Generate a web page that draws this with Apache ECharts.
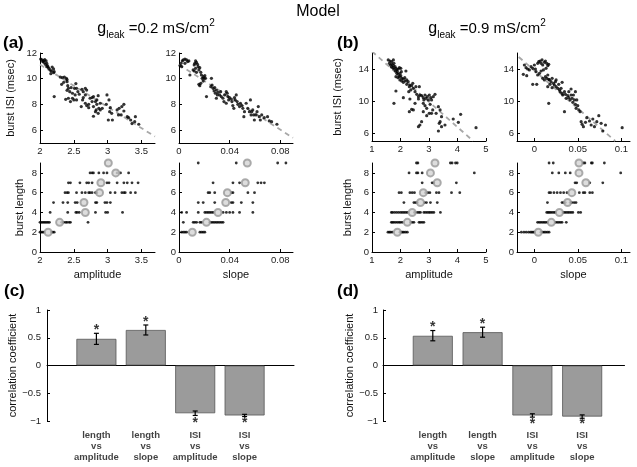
<!DOCTYPE html>
<html>
<head>
<meta charset="utf-8">
<script src="https://cdn.jsdelivr.net/npm/echarts@6/dist/echarts.min.js"></script>
<style>
  html, body { margin: 0; padding: 0; background: #fff; }
  #chart { width: 637px; height: 467px; }
</style>
</head>
<body>
<div id="chart"></div>
<script>
// ---- panel (a): gleak = 0.2 ----
// burst ISI (msec) vs amplitude
var isiAmpA = [
  [2.01,11.53],[2.03,11.46],[2.05,11.40],[2.07,11.48],[2.09,11.38],[2.06,11.27],[2.04,11.33],[2.10,11.20],[2.08,11.12],[2.11,11.02],
  [2.12,10.91],[2.10,10.94],[2.13,10.81],[2.15,10.68],[2.17,10.60],[2.16,10.39],[2.20,10.47],[2.18,10.91],[2.20,10.76],[2.21,10.55],
  [2.21,8.61],[2.30,10.13],[2.33,10.08],[2.36,10.13],[2.39,10.03],[2.40,9.93],[2.40,9.77],[2.35,9.72],[2.32,9.56],[2.41,9.46],
  [2.42,9.25],[2.40,9.10],[2.44,8.99],[2.46,9.31],[2.48,8.87],[2.51,9.25],[2.53,9.62],[2.54,9.25],[2.56,8.99],[2.52,8.74],
  [2.48,8.48],[2.42,8.48],[2.38,8.40],[2.45,8.22],[2.50,8.35],[2.54,8.35],[2.58,8.79],[2.62,9.18],[2.64,8.99],[2.67,9.25],
  [2.69,9.12],[2.67,8.74],[2.64,8.53],[2.63,8.35],[2.61,7.83],[2.67,8.09],[2.69,7.91],[2.72,8.01],[2.74,8.48],[2.77,8.53],
  [2.79,8.61],[2.77,8.22],[2.82,8.22],[2.84,8.35],[2.86,8.68],[2.79,7.83],[2.84,8.01],[2.87,7.70],[2.83,7.57],[2.89,8.09],
  [2.92,7.70],[2.79,7.08],[2.72,7.75],[2.82,7.44],[2.86,7.31],[2.89,7.57],[2.99,8.74],[3.02,8.35],[2.98,8.01],[3.04,7.75],
  [3.03,7.44],[3.06,7.31],[3.01,6.79],[3.07,6.79],[3.14,7.57],[3.17,7.70],[3.21,7.83],[3.24,8.01],[3.16,7.18],[3.20,7.18],
  [3.24,7.49],[3.29,7.05],[3.31,6.97],[3.34,6.79],[3.41,7.05],[3.40,6.66],[3.36,6.51],[3.46,6.46]
];
var fitIsiAmpA = [[2, 11.1], [3.7, 5.5]];

// burst ISI (msec) vs slope
var isiSlopeA = [
  [0.0008,11.02],[0.0016,11.20],[0.0026,11.38],[0.0034,11.46],[0.0047,11.53],[0.0060,11.46],[0.0068,11.33],[0.0078,11.38],[0.0047,11.20],[0.0021,10.94],
  [0.0086,10.29],[0.0112,10.68],[0.0120,11.07],[0.0125,11.20],[0.0131,11.38],[0.0138,11.27],[0.0146,11.12],[0.0151,10.94],[0.0131,10.81],[0.0120,10.60],
  [0.0138,10.50],[0.0157,10.68],[0.0164,10.86],[0.0172,10.50],[0.0177,10.29],[0.0191,10.16],[0.0198,10.03],[0.0204,10.24],[0.0209,10.03],[0.0183,10.03],
  [0.0172,9.64],[0.0157,9.56],[0.0164,9.46],[0.0191,9.82],[0.0217,8.61],[0.0256,10.03],[0.0261,9.51],[0.0251,9.38],[0.0269,9.25],[0.0277,9.05],
  [0.0282,9.31],[0.0287,8.87],[0.0295,9.12],[0.0303,8.74],[0.0295,8.48],[0.0308,8.94],[0.0321,8.74],[0.0329,8.99],[0.0334,8.61],[0.0347,8.48],
  [0.0360,8.74],[0.0373,8.99],[0.0381,8.87],[0.0386,8.61],[0.0355,8.22],[0.0373,8.09],[0.0392,8.35],[0.0399,8.53],[0.0412,8.42],[0.0418,8.22],
  [0.0425,7.91],[0.0438,8.53],[0.0444,8.35],[0.0452,8.74],[0.0433,7.70],[0.0459,8.22],[0.0465,8.01],[0.0478,7.83],[0.0485,8.09],[0.0496,7.91],
  [0.0504,7.70],[0.0517,7.44],[0.0512,7.05],[0.0530,8.09],[0.0543,7.70],[0.0556,7.44],[0.0564,8.35],[0.0569,7.18],[0.0574,7.44],[0.0582,7.57],
  [0.0590,7.18],[0.0595,6.79],[0.0608,7.18],[0.0616,7.44],[0.0626,7.83],[0.0634,7.05],[0.0642,6.79],[0.0653,7.18],[0.0673,6.97],[0.0699,7.05],
  [0.0713,6.72],[0.0731,6.66],[0.0773,6.46]
];
var fitIsiSlopeA = [[0, 11.1], [0.09, 5.4]];

// burst length rows (lengths 2..9): amplitude / slope of each burst
var lenAmpA = [
  [2.0,2.02,2.04,2.06,2.17,2.19,2.21],
  [2.0,2.02,2.04,2.06,2.08,2.1,2.12,2.14,2.32,2.35,2.38,2.4,2.43,2.45,2.71],
  [2.15,2.41,2.53,2.55,2.58,2.82,2.97,3.0,3.22],
  [2.2,2.34,2.41,2.52,2.55,2.82,2.84,2.96,2.99,3.04],
  [2.37,2.4,2.42,2.54,2.62,2.67,2.72,2.74,2.77,2.82,2.84,3.04,3.11,3.21,3.24,3.26,3.34,3.41],
  [2.42,2.45,2.59,2.69,2.72,2.77,2.99,3.02,3.14,3.24,3.29,3.36,3.45],
  [2.74,2.77,2.79,2.87,2.94,2.99,3.14,3.19,3.31],
  []
];
var meanAmpA = [2.12, 2.29, 2.67, 2.65, 2.88, 2.9, 3.12, 3.01];

var lenSlopeA = [
  [0.002,0.0034,0.0047,0.006,0.0165,0.0178,0.0191,0.0204],
  [0.0034,0.0112,0.0125,0.0139,0.0165,0.0178,0.0243,0.0256,0.0269,0.0282,0.0295,0.0308,0.0322,0.0335,0.0348],
  [0.0021,0.006,0.0152,0.0204,0.0217,0.023,0.0243,0.0256,0.0269,0.0348,0.0374,0.04,0.0426,0.0478,0.0583],
  [0.0152,0.0191,0.0282,0.0413,0.0426,0.0492,0.0583],
  [0.023,0.0243,0.0282,0.0413,0.0426,0.0544,0.0596],
  [0.0269,0.0426,0.0478,0.0622,0.0648,0.0674],
  [],
  [0.0152,0.0452,0.0779,0.0844]
];
var meanSlopeA = [0.0105, 0.0217, 0.0308, 0.0369, 0.0382, 0.0523, null, 0.0539];

// ---- panel (b): gleak = 0.9 ----
var isiAmpB = [
  [1.57,15.13],[1.63,15.0],[1.69,14.92],[1.75,15.13],[1.61,14.71],[1.65,14.5],[1.70,14.58],[1.75,14.42],[1.77,14.71],[1.81,14.29],
  [1.73,14.17],[1.68,14.25],[1.77,14.0],[1.84,14.08],[1.87,13.88],[1.82,13.75],[1.89,13.67],[1.92,14.0],[1.96,14.17],[2.01,14.08],
  [1.87,13.46],[1.92,13.33],[1.98,13.46],[2.03,13.67],[2.19,13.75],[1.84,13.04],[1.91,12.92],[1.96,13.04],[2.01,13.17],[2.05,12.83],
  [2.10,12.75],[2.15,12.92],[1.98,12.63],[2.04,12.5],[2.10,12.33],[2.16,12.5],[2.22,12.63],[2.27,12.42],[2.22,12.08],[2.33,12.0],
  [2.31,11.79],[2.39,11.92],[2.43,12.21],[2.45,11.58],[2.36,11.38],[2.29,11.17],[2.51,11.17],[2.54,11.79],[2.66,11.79],[2.57,10.83],
  [2.63,10.54],[2.68,10.75],[2.74,10.67],[2.80,10.42],[2.86,10.75],[2.89,10.33],[2.94,10.54],[3.01,10.75],[3.06,10.42],[3.09,10.13],
  [3.15,10.54],[3.21,10.83],[2.98,10.13],[2.82,10.13],[2.63,10.25],[1.84,11.25],[2.10,10.42],[2.33,10.25],[1.77,9.71],[2.45,8.88],
  [2.39,8.96],[2.31,8.67],[2.51,9.71],[2.80,9.71],[2.86,9.42],[2.92,9.08],[3.04,9.58],[3.13,8.88],[3.01,8.46],[3.09,8.46],
  [2.80,8.67],[2.92,8.17],[2.74,7.42],[2.68,7.0],[2.63,6.79],[3.33,9.29],[3.39,8.88],[3.44,8.04],[3.39,7.42],[3.36,7.21],
  [3.44,6.79],[3.33,6.25],[3.56,7.0],[3.85,7.75],[4.03,7.33],[4.11,8.33],[4.65,6.67],[3.25,8.46]
];
var fitIsiAmpB = [[1, 16.2], [4.55, 5]];

var isiSlopeB = [
  [-0.0115,14.5],[-0.0096,14.17],[-0.0077,14.0],[-0.0127,13.33],[-0.0088,13.17],[-0.0058,13.88],[-0.0038,14.29],[-0.0019,14.08],[0,14.5],[0.0012,14.0],
  [0.0019,13.67],[0.0038,14.71],[0.0050,14.92],[0.0065,15.0],[0.0077,14.71],[0.0088,15.13],[0.0096,14.5],[0.0115,14.83],[0.0127,15.0],[0.0142,14.71],
  [0.0154,14.42],[0.0165,14.58],[0.0134,14.08],[0.0104,13.88],[0.0077,13.75],[0.0058,13.46],[0.0038,13.25],[-0.0019,12.08],[0.0027,12.08],[0.0096,12.83],
  [0.0115,12.63],[0.0127,13.04],[0.0142,12.83],[0.0154,13.25],[0.0165,12.71],[0.0173,12.63],[0.0192,12.42],[0.0204,12.83],[0.0180,12.08],[0.0154,11.79],
  [0.0204,11.67],[0.0219,12.21],[0.0230,12.0],[0.0242,12.42],[0.0250,11.79],[0.0269,11.58],[0.0280,12.08],[0.0288,11.38],[0.0296,11.17],[0.0307,11.58],
  [0.0319,10.96],[0.0326,10.75],[0.0346,11.17],[0.0357,10.83],[0.0365,10.33],[0.0384,10.67],[0.0396,10.42],[0.0411,10.13],[0.0422,10.75],[0.0434,10.33],
  [0.0442,9.83],[0.0461,10.13],[0.0472,9.58],[0.0480,9.08],[0.0499,9.42],[0.0511,8.88],[0.0526,8.67],[0.0422,11.5],[0.0396,11.17],[0.0449,10.75],
  [0.0488,10.13],[0.0346,8.67],[0.0165,9.71],[0.0538,7.42],[0.0549,7.08],[0.0564,6.79],[0.0588,7.33],[0.0603,7.92],[0.0634,7.5],[0.0653,7.0],
  [0.0672,7.75],[0.0691,6.79],[0.0718,7.42],[0.0741,8.17],[0.0768,7.21],[0.0787,6.25],[0.0818,7.0],[0.1010,6.67],[0.0472,11.17],[0.0250,12.63],
  [0.0319,12.33]
];
var fitIsiSlopeB = [[-0.018, 15.5], [0.093, 5.0]];

var lenAmpB = [
  [1.56,1.61,1.65,1.71,1.98,2.03,2.07,2.12,2.18,2.24],
  [1.68,1.72,1.77,1.83,1.89,1.95,2.0,2.06,2.35,2.41,2.47,2.65,2.7,2.76,2.82],
  [1.68,1.72,1.79,1.86,1.93,2.0,2.06,2.12,2.18,2.24,2.49,2.59,2.65,2.7,2.82,2.88,2.94,3.0,3.05,3.11,3.17,3.4],
  [2.12,2.47,2.53,2.59,2.84,2.91,3.05,3.29],
  [1.95,2.03,2.33,2.41,2.49,2.88,2.96,3.03,3.26,3.35,3.79,4.08],
  [2.76,3.11,3.17,3.96],
  [2.3,2.56,2.61,2.76,4.59],
  [2.56,2.61,3.75,3.81,3.93,3.99]
];
var meanAmpB = [1.89, 2.24, 2.41, 2.7, 2.8, 3.29, 3.05, 3.21];

var lenSlopeB = [
  [-0.015,-0.012,-0.0094,-0.0067,-0.0045,-0.003,-0.0015,0,0.0075,0.0094,0.0112,0.013,0.015,0.0169],
  [0.0037,0.0056,0.0075,0.0094,0.0112,0.013,0.015,0.0243,0.0262,0.0281,0.03,0.0318,0.0367],
  [0.0142,0.0157,0.0172,0.0187,0.0206,0.0225,0.0243,0.033,0.0348,0.0367,0.0386,0.0404,0.0423,0.0442,0.0506,0.0532],
  [0.015,0.0318,0.0337,0.0356,0.0412,0.0431,0.0457,0.0479],
  [0.0169,0.0187,0.0225,0.0262,0.03,0.0337,0.0375,0.0517,0.0562,0.0581,0.0637,0.0667],
  [0.0468,0.0487,0.0637,0.0787],
  [0.0206,0.0281,0.0356,0.0412,0.0993],
  [0.0169,0.0217,0.0562,0.0581,0.0655,0.0667,0.0805]
];
var meanSlopeB = [0.0045, 0.0195, 0.0288, 0.0382, 0.0431, 0.0592, 0.0513, 0.0513];

// ---- panels (c), (d): correlation coefficients ----
var barLabels = ['length\nvs\namplitude', 'length\nvs\nslope', 'ISI\nvs\namplitude', 'ISI\nvs\nslope'];
var corrC = [0.48, 0.64, -0.86, -0.90];
var errC = [[0.38, 0.58], [0.55, 0.73], [-0.90, -0.82], [-0.92, -0.88]];
var starC = [0.68, 0.83, -1.0, -1.0];
var corrD = [0.535, 0.60, -0.90, -0.92];
var errD = [[0.445, 0.63], [0.51, 0.69], [-0.93, -0.87], [-0.95, -0.89]];
var starD = [0.73, 0.79, -1.02, -1.02];

var FONT = '"Liberation Sans", Arial, Helvetica, sans-serif';

function fmt(v) {
  return String(+(+v).toFixed(3)).replace('-', '\u2212');
}

function axis(gridIndex, min, max, ticks, extra) {
  var a = {
    type: 'value', gridIndex: gridIndex, min: min, max: max,
    axisLine: { show: true, onZero: false, lineStyle: { color: '#000', width: 1 } },
    axisTick: { show: true, inside: true, length: 3, customValues: ticks, lineStyle: { color: '#000' } },
    axisLabel: { customValues: ticks, fontSize: 9.5, color: '#222', fontFamily: FONT, margin: 3, formatter: fmt },
    splitLine: { show: false },
    nameLocation: 'middle',
    nameTextStyle: { fontSize: 11, color: '#111', fontFamily: FONT }
  };
  for (var k in extra) a[k] = extra[k];
  return a;
}

function rowsToPoints(rows) {
  var pts = [];
  rows.forEach(function(row, i) {
    row.forEach(function(x) { pts.push([x, i + 2]); });
  });
  return pts;
}

function meansToPoints(means) {
  var pts = [];
  means.forEach(function(x, i) { if (x !== null) pts.push([x, i + 2]); });
  return pts;
}

var grids = [
  { left: 40, top: 53, width: 115, height: 90 },
  { left: 179, top: 53, width: 114, height: 90 },
  { left: 40, top: 163, width: 115, height: 89 },
  { left: 179, top: 163, width: 114, height: 89 },
  { left: 372, top: 53, width: 114, height: 88 },
  { left: 517, top: 53, width: 113, height: 88 },
  { left: 372, top: 163, width: 114, height: 89 },
  { left: 517, top: 163, width: 113, height: 89 },
  { left: 47, top: 310, width: 247, height: 111 },
  { left: 383, top: 310, width: 241.5, height: 111 }
].map(function(g) { g.outerBoundsMode = 'none'; g.containLabel = false; return g; });

var ampTicksA = [2, 2.5, 3, 3.5], slopeTicksA = [0, 0.04, 0.08];
var ampTicksB = [1, 2, 3, 4, 5], slopeTicksB = [0, 0.05, 0.1];
var lenTicks = [0, 2, 4, 6, 8];
var corrTicks = [-1, -0.5, 0, 0.5, 1];

var xAxes = [
  axis(0, 2, 3.7, ampTicksA),
  axis(1, 0, 0.09, slopeTicksA),
  axis(2, 2, 3.7, ampTicksA, { name: 'amplitude', nameGap: 17 }),
  axis(3, 0, 0.09, slopeTicksA, { name: 'slope', nameGap: 17 }),
  axis(4, 1, 5, ampTicksB),
  axis(5, -0.02, 0.11, slopeTicksB),
  axis(6, 1, 5, ampTicksB, { name: 'amplitude', nameGap: 17 }),
  axis(7, -0.02, 0.11, slopeTicksB, { name: 'slope', nameGap: 17 }),
  axis(8, 0, 5, [1, 2, 3, 4]),
  axis(9, 0, 4.85, [1, 2, 3, 4])
];
[8, 9].forEach(function(i) {
  var a = xAxes[i];
  a.axisLine.onZero = true;
  a.axisTick.show = false;
  a.axisLabel.show = false;
});

var yAxes = [
  axis(0, 5, 12, [6, 8, 10, 12], { name: 'burst ISI (msec)', nameGap: 24 }),
  axis(1, 5, 12, [6, 8, 10, 12]),
  axis(2, 0, 9, lenTicks, { name: 'burst length', nameGap: 15 }),
  axis(3, 0, 9, lenTicks),
  axis(4, 5, 16, [6, 10, 14], { name: 'burst ISI (msec)', nameGap: 29 }),
  axis(5, 5, 16, [6, 10, 14]),
  axis(6, 0, 9, lenTicks, { name: 'burst length', nameGap: 19 }),
  axis(7, 0, 9, lenTicks),
  axis(8, -1, 1, corrTicks, { name: 'correlation coefficient', nameGap: 29 }),
  axis(9, -1, 1, corrTicks, { name: 'correlation coefficient', nameGap: 28 })
];
yAxes[8].axisLabel.margin = 6;
yAxes[9].axisLabel.margin = 5;

var series = [];

function dots(i, data, size) {
  series.push({
    type: 'scatter', xAxisIndex: i, yAxisIndex: i, data: data,
    symbol: 'circle', symbolSize: size || 3.2, z: 3,
    itemStyle: { color: '#000' }, silent: true
  });
}
function fit(i, data) {
  series.push({
    type: 'line', xAxisIndex: i, yAxisIndex: i, data: data, symbol: 'none', z: 2,
    lineStyle: { color: '#a8a8a8', width: 1.8, type: [5, 4] }, silent: true
  });
}
function means(i, data) {
  series.push({
    type: 'scatter', xAxisIndex: i, yAxisIndex: i, data: data,
    symbol: 'circle', symbolSize: 7, z: 4,
    itemStyle: { color: '#d4d4d4', borderColor: '#999', borderWidth: 2 }, silent: true
  });
}

fit(0, fitIsiAmpA); dots(0, isiAmpA);
fit(1, fitIsiSlopeA); dots(1, isiSlopeA);
dots(2, rowsToPoints(lenAmpA), 2.8); means(2, meansToPoints(meanAmpA));
dots(3, rowsToPoints(lenSlopeA), 2.8); means(3, meansToPoints(meanSlopeA));
fit(4, fitIsiAmpB); dots(4, isiAmpB);
fit(5, fitIsiSlopeB); dots(5, isiSlopeB);
dots(6, rowsToPoints(lenAmpB), 2.8); means(6, meansToPoints(meanAmpB));
dots(7, rowsToPoints(lenSlopeB), 2.8); means(7, meansToPoints(meanSlopeB));

function errRender(params, api) {
  var x = api.value(0);
  var p1 = api.coord([x, api.value(1)]);
  var p2 = api.coord([x, api.value(2)]);
  var w = 2.5;
  var st = { stroke: '#000', lineWidth: 1.2 };
  return {
    type: 'group',
    children: [
      { type: 'line', shape: { x1: p1[0], y1: p1[1], x2: p2[0], y2: p2[1] }, style: st },
      { type: 'line', shape: { x1: p1[0] - w, y1: p1[1], x2: p1[0] + w, y2: p1[1] }, style: st },
      { type: 'line', shape: { x1: p2[0] - w, y1: p2[1], x2: p2[0] + w, y2: p2[1] }, style: st }
    ]
  };
}

function bars(i, corr, err, star) {
  series.push({
    type: 'bar', xAxisIndex: i, yAxisIndex: i, barWidth: 40,
    data: corr.map(function(v, k) { return [k + 1, v]; }),
    itemStyle: { color: '#9b9b9b', borderColor: '#555', borderWidth: 0.8 }, silent: true
  });
  series.push({
    type: 'custom', xAxisIndex: i, yAxisIndex: i, renderItem: errRender, z: 5, clip: false,
    data: err.map(function(e, k) { return [k + 1, e[0], e[1]]; }),
    encode: { x: 0, y: [1, 2] }, silent: true
  });
  series.push({
    type: 'scatter', xAxisIndex: i, yAxisIndex: i, symbolSize: 1, z: 5, clip: false,
    itemStyle: { color: 'rgba(0,0,0,0)' },
    data: star.map(function(v, k) { return [k + 1, v]; }),
    label: {
      show: true, position: 'inside', formatter: '*', fontSize: 14, fontWeight: 'bold',
      color: '#000', fontFamily: FONT, offset: [0, 2.5]
    },
    silent: true
  });
  // category labels hang below the bottom of the correlation axis (-1)
  series.push({
    type: 'scatter', xAxisIndex: i, yAxisIndex: i, symbolSize: 1, z: 5, clip: false,
    itemStyle: { color: 'rgba(0,0,0,0)' },
    data: barLabels.map(function(t, k) { return [k + 1, -1]; }),
    label: {
      show: true, position: 'bottom', distance: 8,
      formatter: function(p) { return barLabels[p.dataIndex]; },
      fontSize: 9.5, fontWeight: 'bold', lineHeight: 11, align: 'center',
      color: '#111', fontFamily: FONT
    },
    silent: true
  });
}
bars(8, corrC, errC, starC);
bars(9, corrD, errD, starD);

function gTitle(x, val) {
  return {
    type: 'text', x: x, y: 29,
    style: {
      text: '{g|g}{s|leak}{n| =' + val + ' mS/cm}{p|2}',
      align: 'center', verticalAlign: 'middle', fill: '#000',
      rich: {
        g: { fontSize: 16, fontFamily: FONT, lineHeight: 22 },
        s: { fontSize: 10, fontFamily: FONT, verticalAlign: 'bottom', lineHeight: 12 },
        n: { fontSize: 15, fontFamily: FONT, lineHeight: 22 },
        p: { fontSize: 10, fontFamily: FONT, verticalAlign: 'top', lineHeight: 12 }
      }
    }
  };
}
function panelLabel(x, y, t) {
  return {
    type: 'text', x: x, y: y,
    style: { text: t, fontSize: 17, fontWeight: 'bold', fontFamily: FONT, fill: '#000', align: 'left', verticalAlign: 'middle' }
  };
}

var chart = echarts.init(document.getElementById('chart'));
chart.setOption({
  animation: false,
  backgroundColor: '#fff',
  grid: grids,
  xAxis: xAxes,
  yAxis: yAxes,
  series: series,
  graphic: [
    { type: 'text', x: 318, y: 12, style: { text: 'Model', fontSize: 16, fontFamily: FONT, fill: '#000', align: 'center', verticalAlign: 'middle' } },
    gTitle(156, '0.2'),
    gTitle(487, '0.9'),
    panelLabel(3, 43, '(a)'),
    panelLabel(337, 43, '(b)'),
    panelLabel(4, 291, '(c)'),
    panelLabel(337, 291, '(d)')
  ]
});
</script>
</body>
</html>
